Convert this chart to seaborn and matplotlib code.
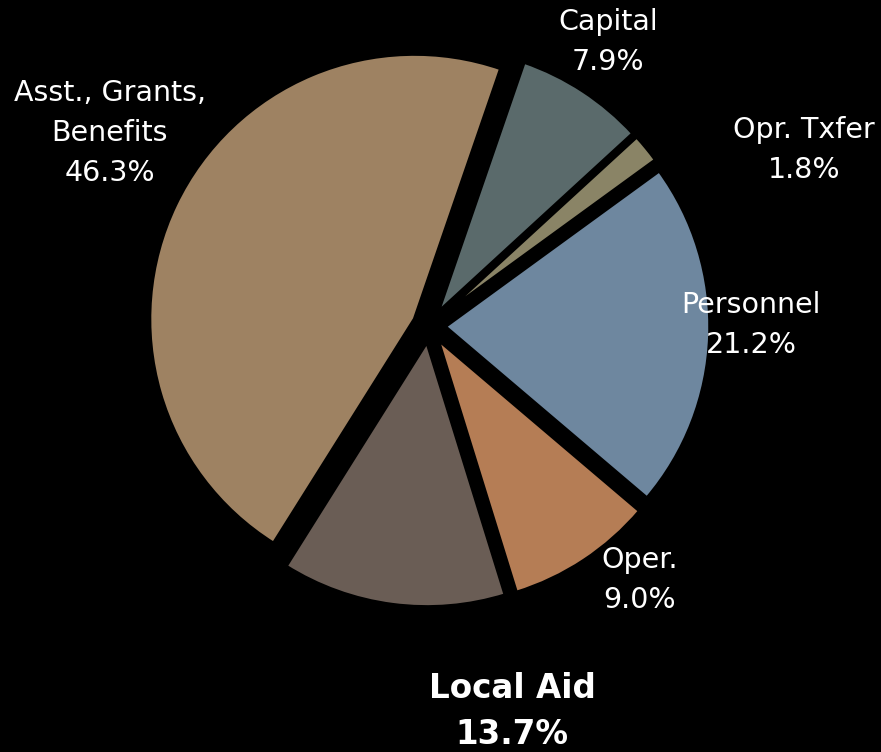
import matplotlib
matplotlib.use("Agg")
import matplotlib.pyplot as plt
import seaborn as sns

# Spending shares, clockwise starting from the top
categories = ["Capital", "Opr. Txfer", "Personnel", "Oper.", "Local Aid", "Asst., Grants,\nBenefits"]
shares = [7.9, 1.8, 21.2, 9.0, 13.7, 46.3]
colors = ["#5a6a6b", "#8a8466", "#6e879f", "#b57d55", "#6a5d55", "#9e8262"]

# label placement (pixels from top-left of the image)
label_pos = [(608, 42), (804, 150), (751, 325), (640, 580), (512, 712), (110, 133)]

sns.set_theme(style="dark")
plt.rcParams["font.family"] = ["DejaVu Sans"]

W, H = 881, 752
fig = plt.figure(figsize=(W / 100, H / 100), dpi=100, facecolor="black")
ax = fig.add_axes([0, 0, 1, 1])
ax.set_facecolor("black")

ax.pie(
    shares,
    colors=colors,
    startangle=71,
    counterclock=False,
    center=(429, H - 326),
    radius=265,
    explode=[16] * len(shares),
    wedgeprops=dict(edgecolor="black", linewidth=2.5),
    frame=True,
)

for cat, val, (x, y) in zip(categories, shares, label_pos):
    bold = cat == "Local Aid"
    ax.text(
        x, H - y, f"{cat}\n{val:.1f}%",
        ha="center", va="center", color="white",
        fontsize=23.5 if bold else 20.5,
        fontweight="bold" if bold else "normal",
        linespacing=1.5 if bold else 1.55,
    )

ax.set_xlim(0, W)
ax.set_ylim(0, H)
ax.set_aspect("equal")
ax.set_xticks([])
ax.set_yticks([])
for s in ax.spines.values():
    s.set_visible(False)

fig.savefig("out.png", dpi=100, facecolor="black")
